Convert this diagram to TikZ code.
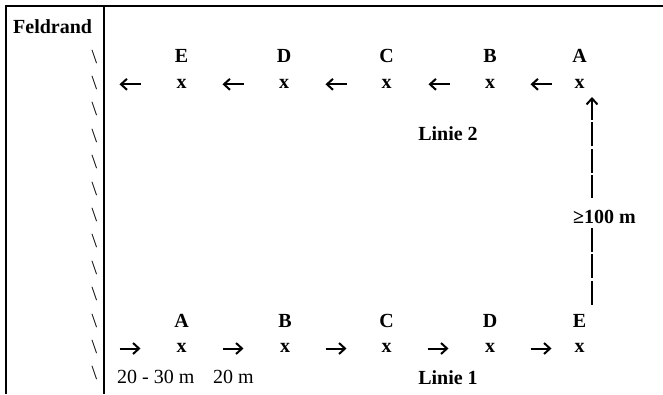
\documentclass[tikz,border=0pt]{standalone}
\usepackage{fontspec}
\setmainfont{Liberation Serif}
\usetikzlibrary{arrows.meta}
\begin{document}
\begin{tikzpicture}[x=1pt,y=-1pt,
  txt/.style={inner sep=0pt, anchor=base, font=\fontsize{20}{24}\selectfont},
  lbl/.style={txt, font=\fontsize{20}{24}\selectfont\bfseries},
  bs/.style={txt, anchor=base east},
  rulestyle/.style={line width=2.3pt, line cap=butt},
  harrow/.style={line width=2pt,
    -{Straight Barb[length=6pt,width=11pt,line width=2pt]}},
  vline/.style={line width=2.3pt, dash pattern=on 24pt off 2.4pt,
    -{Straight Barb[length=6pt,width=11pt,line width=2pt]}}]
\useasboundingbox (0,0) rectangle (663,394);
% table rules
\coordinate (tl) at (5,6.2);
\coordinate (tr) at (663,6.2);
\coordinate (lt) at (6.2,5);
\coordinate (lb) at (6.2,394);
\coordinate (dt) at (103.7,5);
\coordinate (db) at (103.7,394);
\draw[rulestyle] (tl) -- (tr);
\draw[rulestyle] (lt) -- (lb);
\draw[rulestyle] (dt) -- (db);
% header
\node[lbl, anchor=base west] (feld) at (13,33) {Feldrand};
% backslashes
\foreach \k in {0,...,12}
  \node[bs] (bs\k) at (97.5,{63+26.4*\k}) {\textbackslash};
% line 2 (top)
\foreach \n/\xx in {E/181.5, D/284, C/386.5, B/490, A/579.5} {
  \node[lbl] (t\n) at (\xx,62.5) {\n};
  \node[lbl] (tx\n) at (\xx,88.3) {x};
}
\foreach \i/\xx in {1/130, 2/233, 3/336, 4/439, 5/541} {
  \coordinate (tas\i) at ({\xx+10.5},84.3);
  \coordinate (tae\i) at ({\xx-10.5},84.3);
  \draw[harrow] (tas\i) -- (tae\i);
}
\node[lbl] (linie2) at (448,140) {Linie 2};
% line 1 (bottom)
\foreach \n/\xx in {A/181.5, B/285, C/386.5, D/490, E/579.5} {
  \node[lbl] (b\n) at (\xx,327.3) {\n};
  \node[lbl] (bx\n) at (\xx,352.5) {x};
}
\foreach \i/\xx in {1/130, 2/233, 3/336, 4/438, 5/541} {
  \coordinate (bas\i) at ({\xx-10.5},348.5);
  \coordinate (bae\i) at ({\xx+10.5},348.5);
  \draw[harrow] (bas\i) -- (bae\i);
}
\node[txt, anchor=base west] (d1) at (117,383) {20 - 30 m};
\node[txt, anchor=base west] (d2) at (213,383) {20 m};
\node[lbl] (linie1) at (448,384) {Linie 1};
% vertical distance arrow
\coordinate (vbot) at (592,304.5);
\coordinate (vtop) at (592,97);
\draw[vline] (vbot) -- (vtop);
\node[lbl, fill=white, text height=25pt, text depth=4pt, inner xsep=1pt] (dist) at (604.5,223) {≥100 m};
\end{tikzpicture}
\end{document}
